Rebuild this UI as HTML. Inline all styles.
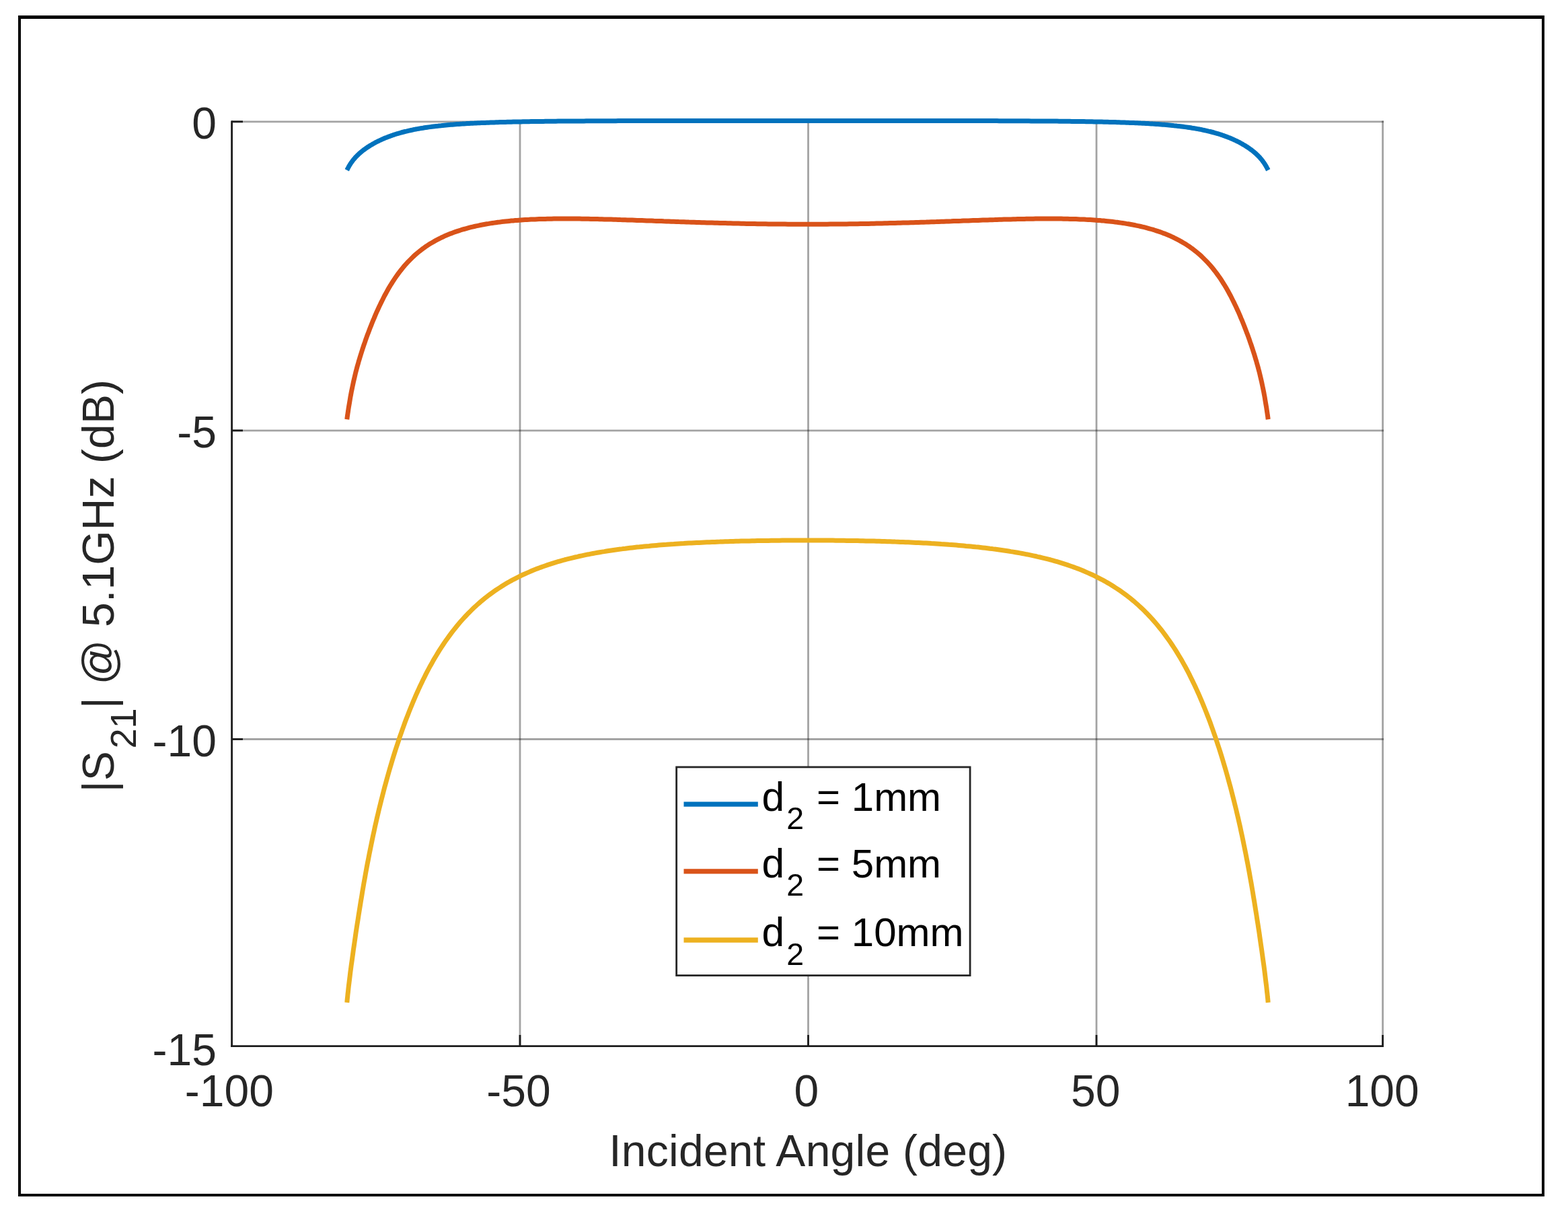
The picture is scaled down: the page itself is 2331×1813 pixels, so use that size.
<!DOCTYPE html>
<html lang="en"><head><meta charset="utf-8"><title>|S21| @ 5.1GHz vs Incident Angle</title>
<style>html,body{margin:0;padding:0;background:#fff}body{width:2331px;height:1813px;overflow:hidden}svg{display:block}text{font-family:"Liberation Sans",Arial,Helvetica,sans-serif}</style></head><body>
<svg xmlns="http://www.w3.org/2000/svg" width="2331" height="1813" viewBox="0 0 2331 1813">
<rect x="0" y="0" width="2331" height="1813" fill="#fff"/>
<g fill="#000"><rect x="27" y="23" width="2269" height="5"/><rect x="27" y="1774" width="2269" height="4"/><rect x="27" y="23" width="4" height="1755"/><rect x="2292" y="23" width="4" height="1755"/></g>
<g>
<g stroke="#000" stroke-opacity="0.36" stroke-width="2.8" fill="none">
<line x1="773.0" y1="179.4" x2="773.0" y2="1553.2"/>
<line x1="1201.5" y1="179.4" x2="1201.5" y2="1553.2"/>
<line x1="1630.0" y1="179.4" x2="1630.0" y2="1553.2"/>
<line x1="2055.6" y1="179.4" x2="2055.6" y2="1553.2"/>
<line x1="346" y1="180.8" x2="2057" y2="180.8"/>
<line x1="346" y1="639.8" x2="2057" y2="639.8"/>
<line x1="346" y1="1098.5" x2="2057" y2="1098.5"/>
</g>
<g fill="none" stroke-width="7" stroke-linejoin="round" stroke-linecap="butt">
<path stroke="#0072BD" d="M515.8,252.9 L515.9,252.7 L516.1,252.3 L516.3,251.7 L516.7,251.1 L517.0,250.3 L517.5,249.5 L517.9,248.7 L518.4,247.7 L519.0,246.8 L519.6,245.8 L520.2,244.8 L520.8,243.7 L521.5,242.7 L522.2,241.6 L523.0,240.6 L523.8,239.5 L524.6,238.4 L525.4,237.4 L526.3,236.3 L527.2,235.3 L528.1,234.2 L529.0,233.2 L530.0,232.2 L531.0,231.2 L532.1,230.2 L533.1,229.2 L534.2,228.2 L535.3,227.2 L536.4,226.3 L537.6,225.3 L538.7,224.4 L539.9,223.4 L541.1,222.5 L542.4,221.6 L543.6,220.7 L544.9,219.8 L546.2,218.9 L547.6,218.1 L548.9,217.2 L550.3,216.3 L551.7,215.5 L553.1,214.7 L554.5,213.8 L556.0,213.0 L557.4,212.2 L558.9,211.4 L560.4,210.7 L562.0,209.9 L563.5,209.1 L565.1,208.4 L566.7,207.7 L568.3,206.9 L569.9,206.2 L571.5,205.5 L573.2,204.8 L574.9,204.2 L576.6,203.5 L578.3,202.9 L580.0,202.2 L581.8,201.6 L583.5,201.0 L585.3,200.4 L587.1,199.8 L588.9,199.2 L590.8,198.7 L592.6,198.1 L594.5,197.6 L596.4,197.0 L598.3,196.5 L600.2,196.0 L602.1,195.5 L604.1,195.1 L606.1,194.6 L608.1,194.1 L610.1,193.7 L612.1,193.3 L614.1,192.8 L616.2,192.4 L618.2,192.0 L620.3,191.6 L622.4,191.3 L624.5,190.9 L626.7,190.5 L628.8,190.2 L631.0,189.8 L633.1,189.5 L635.3,189.2 L637.5,188.9 L639.7,188.6 L642.0,188.3 L644.2,188.0 L646.5,187.7 L648.8,187.4 L651.1,187.2 L653.4,186.9 L655.7,186.7 L658.1,186.4 L660.4,186.2 L662.8,186.0 L665.2,185.8 L667.6,185.6 L670.0,185.3 L672.4,185.2 L674.8,185.0 L677.3,184.8 L679.7,184.6 L682.2,184.4 L684.7,184.2 L687.2,184.1 L689.8,183.9 L692.3,183.8 L694.8,183.6 L697.4,183.5 L700.0,183.3 L702.6,183.2 L705.2,183.1 L707.8,182.9 L710.4,182.8 L713.1,182.7 L715.7,182.6 L718.4,182.5 L721.1,182.4 L723.8,182.3 L726.5,182.2 L729.2,182.1 L732.0,182.0 L734.7,181.9 L737.5,181.8 L740.3,181.7 L743.1,181.6 L745.9,181.5 L748.7,181.5 L751.5,181.4 L754.4,181.3 L757.2,181.2 L760.1,181.2 L763.0,181.1 L765.9,181.1 L768.8,181.0 L771.7,180.9 L774.6,180.9 L777.5,180.8 L780.5,180.8 L783.5,180.7 L786.5,180.7 L789.4,180.6 L792.4,180.6 L795.5,180.5 L798.5,180.5 L801.5,180.5 L804.6,180.4 L807.7,180.4 L810.7,180.3 L813.8,180.3 L816.9,180.3 L820.0,180.2 L823.2,180.2 L826.3,180.2 L829.5,180.1 L832.6,180.1 L835.8,180.1 L839.0,180.1 L842.2,180.0 L845.4,180.0 L848.6,180.0 L851.8,180.0 L855.1,179.9 L858.3,179.9 L861.6,179.9 L864.9,179.9 L868.2,179.9 L871.5,179.8 L874.8,179.8 L878.1,179.8 L881.5,179.8 L884.8,179.8 L888.2,179.8 L891.5,179.7 L894.9,179.7 L898.3,179.7 L901.7,179.7 L905.1,179.7 L908.6,179.7 L912.0,179.7 L915.5,179.7 L918.9,179.6 L922.4,179.6 L925.9,179.6 L929.4,179.6 L932.9,179.6 L936.4,179.6 L939.9,179.6 L943.5,179.6 L947.0,179.6 L950.6,179.6 L954.2,179.6 L957.7,179.6 L961.3,179.6 L964.9,179.5 L968.6,179.5 L972.2,179.5 L975.8,179.5 L979.5,179.5 L983.1,179.5 L986.8,179.5 L990.5,179.5 L994.2,179.5 L997.9,179.5 L1001.6,179.5 L1005.3,179.5 L1009.1,179.5 L1012.8,179.5 L1016.6,179.5 L1020.3,179.5 L1024.1,179.5 L1027.9,179.5 L1031.7,179.5 L1035.5,179.5 L1039.3,179.5 L1043.1,179.5 L1047.0,179.5 L1050.8,179.5 L1054.7,179.5 L1058.6,179.5 L1062.5,179.5 L1066.3,179.5 L1070.2,179.5 L1074.2,179.5 L1078.1,179.4 L1082.0,179.4 L1086.0,179.4 L1089.9,179.4 L1093.9,179.4 L1097.9,179.4 L1101.8,179.4 L1105.8,179.4 L1109.8,179.4 L1113.9,179.4 L1117.9,179.4 L1121.9,179.4 L1126.0,179.4 L1130.0,179.4 L1134.1,179.4 L1138.2,179.4 L1142.3,179.4 L1146.3,179.4 L1150.5,179.4 L1154.6,179.4 L1158.7,179.4 L1162.8,179.4 L1167.0,179.4 L1171.1,179.4 L1175.3,179.4 L1179.5,179.4 L1183.7,179.4 L1187.9,179.4 L1192.1,179.4 L1196.3,179.4 L1200.5,179.4 L1204.7,179.4 L1208.9,179.4 L1213.1,179.4 L1217.3,179.4 L1221.5,179.4 L1225.7,179.4 L1229.9,179.4 L1234.0,179.4 L1238.2,179.4 L1242.3,179.4 L1246.4,179.4 L1250.5,179.4 L1254.7,179.4 L1258.7,179.4 L1262.8,179.4 L1266.9,179.4 L1271.0,179.4 L1275.0,179.4 L1279.1,179.4 L1283.1,179.4 L1287.1,179.4 L1291.2,179.4 L1295.2,179.4 L1299.2,179.4 L1303.1,179.4 L1307.1,179.4 L1311.1,179.4 L1315.0,179.4 L1319.0,179.4 L1322.9,179.4 L1326.8,179.5 L1330.8,179.5 L1334.7,179.5 L1338.5,179.5 L1342.4,179.5 L1346.3,179.5 L1350.2,179.5 L1354.0,179.5 L1357.9,179.5 L1361.7,179.5 L1365.5,179.5 L1369.3,179.5 L1373.1,179.5 L1376.9,179.5 L1380.7,179.5 L1384.4,179.5 L1388.2,179.5 L1391.9,179.5 L1395.7,179.5 L1399.4,179.5 L1403.1,179.5 L1406.8,179.5 L1410.5,179.5 L1414.2,179.5 L1417.9,179.5 L1421.5,179.5 L1425.2,179.5 L1428.8,179.5 L1432.4,179.5 L1436.1,179.5 L1439.7,179.6 L1443.3,179.6 L1446.8,179.6 L1450.4,179.6 L1454.0,179.6 L1457.5,179.6 L1461.1,179.6 L1464.6,179.6 L1468.1,179.6 L1471.6,179.6 L1475.1,179.6 L1478.6,179.6 L1482.1,179.6 L1485.5,179.7 L1489.0,179.7 L1492.4,179.7 L1495.9,179.7 L1499.3,179.7 L1502.7,179.7 L1506.1,179.7 L1509.5,179.7 L1512.8,179.8 L1516.2,179.8 L1519.5,179.8 L1522.9,179.8 L1526.2,179.8 L1529.5,179.8 L1532.8,179.9 L1536.1,179.9 L1539.4,179.9 L1542.7,179.9 L1545.9,179.9 L1549.2,180.0 L1552.4,180.0 L1555.6,180.0 L1558.8,180.0 L1562.0,180.1 L1565.2,180.1 L1568.4,180.1 L1571.5,180.1 L1574.7,180.2 L1577.8,180.2 L1581.0,180.2 L1584.1,180.3 L1587.2,180.3 L1590.3,180.3 L1593.3,180.4 L1596.4,180.4 L1599.5,180.5 L1602.5,180.5 L1605.5,180.5 L1608.6,180.6 L1611.6,180.6 L1614.5,180.7 L1617.5,180.7 L1620.5,180.8 L1623.5,180.8 L1626.4,180.9 L1629.3,180.9 L1632.2,181.0 L1635.1,181.1 L1638.0,181.1 L1640.9,181.2 L1643.8,181.2 L1646.6,181.3 L1649.5,181.4 L1652.3,181.5 L1655.1,181.5 L1657.9,181.6 L1660.7,181.7 L1663.5,181.8 L1666.3,181.9 L1669.0,182.0 L1671.8,182.1 L1674.5,182.2 L1677.2,182.3 L1679.9,182.4 L1682.6,182.5 L1685.3,182.6 L1687.9,182.7 L1690.6,182.8 L1693.2,182.9 L1695.8,183.1 L1698.4,183.2 L1701.0,183.3 L1703.6,183.5 L1706.2,183.6 L1708.7,183.8 L1711.2,183.9 L1713.8,184.1 L1716.3,184.2 L1718.8,184.4 L1721.3,184.6 L1723.7,184.8 L1726.2,185.0 L1728.6,185.2 L1731.0,185.3 L1733.4,185.6 L1735.8,185.8 L1738.2,186.0 L1740.6,186.2 L1742.9,186.4 L1745.3,186.7 L1747.6,186.9 L1749.9,187.2 L1752.2,187.4 L1754.5,187.7 L1756.8,188.0 L1759.0,188.3 L1761.3,188.6 L1763.5,188.9 L1765.7,189.2 L1767.9,189.5 L1770.0,189.8 L1772.2,190.2 L1774.3,190.5 L1776.5,190.9 L1778.6,191.3 L1780.7,191.6 L1782.8,192.0 L1784.8,192.4 L1786.9,192.8 L1788.9,193.3 L1790.9,193.7 L1792.9,194.1 L1794.9,194.6 L1796.9,195.1 L1798.9,195.5 L1800.8,196.0 L1802.7,196.5 L1804.6,197.0 L1806.5,197.6 L1808.4,198.1 L1810.2,198.7 L1812.1,199.2 L1813.9,199.8 L1815.7,200.4 L1817.5,201.0 L1819.2,201.6 L1821.0,202.2 L1822.7,202.9 L1824.4,203.5 L1826.1,204.2 L1827.8,204.8 L1829.5,205.5 L1831.1,206.2 L1832.7,206.9 L1834.3,207.7 L1835.9,208.4 L1837.5,209.1 L1839.0,209.9 L1840.6,210.7 L1842.1,211.4 L1843.6,212.2 L1845.0,213.0 L1846.5,213.8 L1847.9,214.7 L1849.3,215.5 L1850.7,216.3 L1852.1,217.2 L1853.4,218.1 L1854.8,218.9 L1856.1,219.8 L1857.4,220.7 L1858.6,221.6 L1859.9,222.5 L1861.1,223.4 L1862.3,224.4 L1863.4,225.3 L1864.6,226.3 L1865.7,227.2 L1866.8,228.2 L1867.9,229.2 L1868.9,230.2 L1870.0,231.2 L1871.0,232.2 L1872.0,233.2 L1872.9,234.2 L1873.8,235.3 L1874.7,236.3 L1875.6,237.4 L1876.4,238.4 L1877.2,239.5 L1878.0,240.6 L1878.8,241.6 L1879.5,242.7 L1880.2,243.7 L1880.8,244.8 L1881.4,245.8 L1882.0,246.8 L1882.6,247.7 L1883.1,248.7 L1883.5,249.5 L1884.0,250.3 L1884.3,251.1 L1884.7,251.7 L1884.9,252.3 L1885.1,252.7 L1885.2,252.9"/>
<path stroke="#D95319" d="M515.8,623.2 L515.9,622.5 L516.1,621.1 L516.3,619.2 L516.7,616.9 L517.0,614.3 L517.5,611.4 L517.9,608.4 L518.4,605.1 L519.0,601.7 L519.6,598.1 L520.2,594.5 L520.8,590.7 L521.5,587.0 L522.2,583.1 L523.0,579.3 L523.8,575.4 L524.6,571.6 L525.4,567.7 L526.3,563.9 L527.2,560.1 L528.1,556.3 L529.0,552.5 L530.0,548.8 L531.0,545.0 L532.1,541.3 L533.1,537.6 L534.2,534.0 L535.3,530.3 L536.4,526.7 L537.6,523.0 L538.7,519.4 L539.9,515.8 L541.1,512.2 L542.4,508.6 L543.6,505.0 L544.9,501.4 L546.2,497.8 L547.6,494.2 L548.9,490.7 L550.3,487.1 L551.7,483.6 L553.1,480.0 L554.5,476.5 L556.0,473.1 L557.4,469.6 L558.9,466.1 L560.4,462.7 L562.0,459.4 L563.5,456.0 L565.1,452.7 L566.7,449.4 L568.3,446.2 L569.9,443.0 L571.5,439.8 L573.2,436.7 L574.9,433.6 L576.6,430.6 L578.3,427.6 L580.0,424.7 L581.8,421.9 L583.5,419.1 L585.3,416.3 L587.1,413.6 L588.9,411.0 L590.8,408.4 L592.6,405.9 L594.5,403.4 L596.4,401.0 L598.3,398.6 L600.2,396.3 L602.1,394.0 L604.1,391.8 L606.1,389.7 L608.1,387.6 L610.1,385.6 L612.1,383.6 L614.1,381.6 L616.2,379.7 L618.2,377.9 L620.3,376.1 L622.4,374.4 L624.5,372.7 L626.7,371.0 L628.8,369.4 L631.0,367.9 L633.1,366.3 L635.3,364.9 L637.5,363.4 L639.7,362.0 L642.0,360.7 L644.2,359.4 L646.5,358.1 L648.8,356.8 L651.1,355.6 L653.4,354.5 L655.7,353.3 L658.1,352.2 L660.4,351.1 L662.8,350.1 L665.2,349.1 L667.6,348.1 L670.0,347.1 L672.4,346.2 L674.8,345.3 L677.3,344.4 L679.7,343.6 L682.2,342.8 L684.7,342.0 L687.2,341.2 L689.8,340.5 L692.3,339.8 L694.8,339.1 L697.4,338.4 L700.0,337.7 L702.6,337.1 L705.2,336.5 L707.8,335.9 L710.4,335.4 L713.1,334.8 L715.7,334.3 L718.4,333.8 L721.1,333.3 L723.8,332.8 L726.5,332.4 L729.2,331.9 L732.0,331.5 L734.7,331.1 L737.5,330.7 L740.3,330.3 L743.1,330.0 L745.9,329.6 L748.7,329.3 L751.5,329.0 L754.4,328.7 L757.2,328.4 L760.1,328.1 L763.0,327.9 L765.9,327.6 L768.8,327.4 L771.7,327.2 L774.6,327.0 L777.5,326.8 L780.5,326.6 L783.5,326.4 L786.5,326.3 L789.4,326.1 L792.4,326.0 L795.5,325.9 L798.5,325.7 L801.5,325.6 L804.6,325.5 L807.7,325.4 L810.7,325.4 L813.8,325.3 L816.9,325.2 L820.0,325.2 L823.2,325.1 L826.3,325.1 L829.5,325.1 L832.6,325.0 L835.8,325.0 L839.0,325.0 L842.2,325.0 L845.4,325.0 L848.6,325.0 L851.8,325.0 L855.1,325.1 L858.3,325.1 L861.6,325.1 L864.9,325.2 L868.2,325.2 L871.5,325.3 L874.8,325.3 L878.1,325.4 L881.5,325.5 L884.8,325.5 L888.2,325.6 L891.5,325.7 L894.9,325.8 L898.3,325.9 L901.7,325.9 L905.1,326.0 L908.6,326.1 L912.0,326.2 L915.5,326.3 L918.9,326.4 L922.4,326.6 L925.9,326.7 L929.4,326.8 L932.9,326.9 L936.4,327.0 L939.9,327.1 L943.5,327.2 L947.0,327.4 L950.6,327.5 L954.2,327.6 L957.7,327.7 L961.3,327.9 L964.9,328.0 L968.6,328.1 L972.2,328.3 L975.8,328.4 L979.5,328.5 L983.1,328.6 L986.8,328.8 L990.5,328.9 L994.2,329.0 L997.9,329.2 L1001.6,329.3 L1005.3,329.4 L1009.1,329.6 L1012.8,329.7 L1016.6,329.8 L1020.3,329.9 L1024.1,330.1 L1027.9,330.2 L1031.7,330.3 L1035.5,330.4 L1039.3,330.5 L1043.1,330.7 L1047.0,330.8 L1050.8,330.9 L1054.7,331.0 L1058.6,331.1 L1062.5,331.2 L1066.3,331.3 L1070.2,331.4 L1074.2,331.5 L1078.1,331.6 L1082.0,331.7 L1086.0,331.8 L1089.9,331.9 L1093.9,332.0 L1097.9,332.1 L1101.8,332.2 L1105.8,332.3 L1109.8,332.4 L1113.9,332.4 L1117.9,332.5 L1121.9,332.6 L1126.0,332.7 L1130.0,332.7 L1134.1,332.8 L1138.2,332.8 L1142.3,332.9 L1146.3,332.9 L1150.5,333.0 L1154.6,333.0 L1158.7,333.1 L1162.8,333.1 L1167.0,333.1 L1171.1,333.2 L1175.3,333.2 L1179.5,333.2 L1183.7,333.2 L1187.9,333.3 L1192.1,333.3 L1196.3,333.3 L1200.5,333.3 L1204.7,333.3 L1208.9,333.3 L1213.1,333.3 L1217.3,333.2 L1221.5,333.2 L1225.7,333.2 L1229.9,333.2 L1234.0,333.1 L1238.2,333.1 L1242.3,333.1 L1246.4,333.0 L1250.5,333.0 L1254.7,332.9 L1258.7,332.9 L1262.8,332.8 L1266.9,332.8 L1271.0,332.7 L1275.0,332.7 L1279.1,332.6 L1283.1,332.5 L1287.1,332.4 L1291.2,332.4 L1295.2,332.3 L1299.2,332.2 L1303.1,332.1 L1307.1,332.0 L1311.1,331.9 L1315.0,331.8 L1319.0,331.7 L1322.9,331.6 L1326.8,331.5 L1330.8,331.4 L1334.7,331.3 L1338.5,331.2 L1342.4,331.1 L1346.3,331.0 L1350.2,330.9 L1354.0,330.8 L1357.9,330.7 L1361.7,330.5 L1365.5,330.4 L1369.3,330.3 L1373.1,330.2 L1376.9,330.1 L1380.7,329.9 L1384.4,329.8 L1388.2,329.7 L1391.9,329.6 L1395.7,329.4 L1399.4,329.3 L1403.1,329.2 L1406.8,329.0 L1410.5,328.9 L1414.2,328.8 L1417.9,328.6 L1421.5,328.5 L1425.2,328.4 L1428.8,328.3 L1432.4,328.1 L1436.1,328.0 L1439.7,327.9 L1443.3,327.7 L1446.8,327.6 L1450.4,327.5 L1454.0,327.4 L1457.5,327.2 L1461.1,327.1 L1464.6,327.0 L1468.1,326.9 L1471.6,326.8 L1475.1,326.7 L1478.6,326.6 L1482.1,326.4 L1485.5,326.3 L1489.0,326.2 L1492.4,326.1 L1495.9,326.0 L1499.3,325.9 L1502.7,325.9 L1506.1,325.8 L1509.5,325.7 L1512.8,325.6 L1516.2,325.5 L1519.5,325.5 L1522.9,325.4 L1526.2,325.3 L1529.5,325.3 L1532.8,325.2 L1536.1,325.2 L1539.4,325.1 L1542.7,325.1 L1545.9,325.1 L1549.2,325.0 L1552.4,325.0 L1555.6,325.0 L1558.8,325.0 L1562.0,325.0 L1565.2,325.0 L1568.4,325.0 L1571.5,325.1 L1574.7,325.1 L1577.8,325.1 L1581.0,325.2 L1584.1,325.2 L1587.2,325.3 L1590.3,325.4 L1593.3,325.4 L1596.4,325.5 L1599.5,325.6 L1602.5,325.7 L1605.5,325.9 L1608.6,326.0 L1611.6,326.1 L1614.5,326.3 L1617.5,326.4 L1620.5,326.6 L1623.5,326.8 L1626.4,327.0 L1629.3,327.2 L1632.2,327.4 L1635.1,327.6 L1638.0,327.9 L1640.9,328.1 L1643.8,328.4 L1646.6,328.7 L1649.5,329.0 L1652.3,329.3 L1655.1,329.6 L1657.9,330.0 L1660.7,330.3 L1663.5,330.7 L1666.3,331.1 L1669.0,331.5 L1671.8,331.9 L1674.5,332.4 L1677.2,332.8 L1679.9,333.3 L1682.6,333.8 L1685.3,334.3 L1687.9,334.8 L1690.6,335.4 L1693.2,335.9 L1695.8,336.5 L1698.4,337.1 L1701.0,337.7 L1703.6,338.4 L1706.2,339.1 L1708.7,339.8 L1711.2,340.5 L1713.8,341.2 L1716.3,342.0 L1718.8,342.8 L1721.3,343.6 L1723.7,344.4 L1726.2,345.3 L1728.6,346.2 L1731.0,347.1 L1733.4,348.1 L1735.8,349.1 L1738.2,350.1 L1740.6,351.1 L1742.9,352.2 L1745.3,353.3 L1747.6,354.5 L1749.9,355.6 L1752.2,356.8 L1754.5,358.1 L1756.8,359.4 L1759.0,360.7 L1761.3,362.0 L1763.5,363.4 L1765.7,364.9 L1767.9,366.3 L1770.0,367.9 L1772.2,369.4 L1774.3,371.0 L1776.5,372.7 L1778.6,374.4 L1780.7,376.1 L1782.8,377.9 L1784.8,379.7 L1786.9,381.6 L1788.9,383.6 L1790.9,385.6 L1792.9,387.6 L1794.9,389.7 L1796.9,391.8 L1798.9,394.0 L1800.8,396.3 L1802.7,398.6 L1804.6,401.0 L1806.5,403.4 L1808.4,405.9 L1810.2,408.4 L1812.1,411.0 L1813.9,413.6 L1815.7,416.3 L1817.5,419.1 L1819.2,421.9 L1821.0,424.7 L1822.7,427.6 L1824.4,430.6 L1826.1,433.6 L1827.8,436.7 L1829.5,439.8 L1831.1,443.0 L1832.7,446.2 L1834.3,449.4 L1835.9,452.7 L1837.5,456.0 L1839.0,459.4 L1840.6,462.7 L1842.1,466.1 L1843.6,469.6 L1845.0,473.1 L1846.5,476.5 L1847.9,480.0 L1849.3,483.6 L1850.7,487.1 L1852.1,490.7 L1853.4,494.2 L1854.8,497.8 L1856.1,501.4 L1857.4,505.0 L1858.6,508.6 L1859.9,512.2 L1861.1,515.8 L1862.3,519.4 L1863.4,523.0 L1864.6,526.7 L1865.7,530.3 L1866.8,534.0 L1867.9,537.6 L1868.9,541.3 L1870.0,545.0 L1871.0,548.8 L1872.0,552.5 L1872.9,556.3 L1873.8,560.1 L1874.7,563.9 L1875.6,567.7 L1876.4,571.6 L1877.2,575.4 L1878.0,579.3 L1878.8,583.1 L1879.5,587.0 L1880.2,590.7 L1880.8,594.5 L1881.4,598.1 L1882.0,601.7 L1882.6,605.1 L1883.1,608.4 L1883.5,611.4 L1884.0,614.3 L1884.3,616.9 L1884.7,619.2 L1884.9,621.1 L1885.1,622.5 L1885.2,623.2"/>
<path stroke="#EDB120" d="M515.8,1489.9 L515.9,1488.9 L516.1,1486.9 L516.3,1484.2 L516.7,1481.0 L517.0,1477.5 L517.5,1473.5 L517.9,1469.3 L518.4,1464.9 L519.0,1460.2 L519.6,1455.3 L520.2,1450.3 L520.8,1445.2 L521.5,1439.9 L522.2,1434.4 L523.0,1428.9 L523.8,1423.2 L524.6,1417.4 L525.4,1411.4 L526.3,1405.4 L527.2,1399.2 L528.1,1392.9 L529.0,1386.5 L530.0,1380.0 L531.0,1373.5 L532.1,1366.8 L533.1,1360.0 L534.2,1353.2 L535.3,1346.4 L536.4,1339.4 L537.6,1332.5 L538.7,1325.5 L539.9,1318.5 L541.1,1311.5 L542.4,1304.5 L543.6,1297.5 L544.9,1290.5 L546.2,1283.5 L547.6,1276.5 L548.9,1269.6 L550.3,1262.7 L551.7,1255.9 L553.1,1249.0 L554.5,1242.3 L556.0,1235.5 L557.4,1228.8 L558.9,1222.2 L560.4,1215.6 L562.0,1209.0 L563.5,1202.5 L565.1,1196.1 L566.7,1189.7 L568.3,1183.4 L569.9,1177.1 L571.5,1170.8 L573.2,1164.7 L574.9,1158.5 L576.6,1152.4 L578.3,1146.4 L580.0,1140.5 L581.8,1134.5 L583.5,1128.7 L585.3,1122.9 L587.1,1117.1 L588.9,1111.5 L590.8,1105.8 L592.6,1100.3 L594.5,1094.7 L596.4,1089.3 L598.3,1083.9 L600.2,1078.6 L602.1,1073.3 L604.1,1068.1 L606.1,1062.9 L608.1,1057.8 L610.1,1052.8 L612.1,1047.9 L614.1,1043.0 L616.2,1038.2 L618.2,1033.4 L620.3,1028.7 L622.4,1024.1 L624.5,1019.5 L626.7,1015.0 L628.8,1010.6 L631.0,1006.2 L633.1,1001.9 L635.3,997.7 L637.5,993.5 L639.7,989.4 L642.0,985.4 L644.2,981.4 L646.5,977.5 L648.8,973.7 L651.1,969.9 L653.4,966.2 L655.7,962.6 L658.1,959.0 L660.4,955.5 L662.8,952.1 L665.2,948.7 L667.6,945.4 L670.0,942.1 L672.4,938.9 L674.8,935.8 L677.3,932.7 L679.7,929.7 L682.2,926.7 L684.7,923.8 L687.2,921.0 L689.8,918.2 L692.3,915.5 L694.8,912.8 L697.4,910.2 L700.0,907.6 L702.6,905.1 L705.2,902.6 L707.8,900.2 L710.4,897.8 L713.1,895.5 L715.7,893.2 L718.4,891.0 L721.1,888.8 L723.8,886.7 L726.5,884.6 L729.2,882.6 L732.0,880.6 L734.7,878.7 L737.5,876.7 L740.3,874.9 L743.1,873.1 L745.9,871.3 L748.7,869.5 L751.5,867.8 L754.4,866.1 L757.2,864.5 L760.1,862.9 L763.0,861.3 L765.9,859.8 L768.8,858.3 L771.7,856.9 L774.6,855.4 L777.5,854.0 L780.5,852.7 L783.5,851.4 L786.5,850.1 L789.4,848.8 L792.4,847.5 L795.5,846.3 L798.5,845.1 L801.5,844.0 L804.6,842.9 L807.7,841.8 L810.7,840.7 L813.8,839.6 L816.9,838.6 L820.0,837.6 L823.2,836.6 L826.3,835.6 L829.5,834.7 L832.6,833.8 L835.8,832.9 L839.0,832.0 L842.2,831.2 L845.4,830.4 L848.6,829.6 L851.8,828.8 L855.1,828.0 L858.3,827.3 L861.6,826.5 L864.9,825.8 L868.2,825.1 L871.5,824.4 L874.8,823.8 L878.1,823.1 L881.5,822.5 L884.8,821.9 L888.2,821.3 L891.5,820.7 L894.9,820.1 L898.3,819.6 L901.7,819.0 L905.1,818.5 L908.6,818.0 L912.0,817.5 L915.5,817.0 L918.9,816.5 L922.4,816.1 L925.9,815.6 L929.4,815.2 L932.9,814.7 L936.4,814.3 L939.9,813.9 L943.5,813.5 L947.0,813.1 L950.6,812.8 L954.2,812.4 L957.7,812.0 L961.3,811.7 L964.9,811.4 L968.6,811.0 L972.2,810.7 L975.8,810.4 L979.5,810.1 L983.1,809.8 L986.8,809.5 L990.5,809.3 L994.2,809.0 L997.9,808.7 L1001.6,808.5 L1005.3,808.2 L1009.1,808.0 L1012.8,807.8 L1016.6,807.6 L1020.3,807.3 L1024.1,807.1 L1027.9,806.9 L1031.7,806.7 L1035.5,806.5 L1039.3,806.4 L1043.1,806.2 L1047.0,806.0 L1050.8,805.8 L1054.7,805.7 L1058.6,805.5 L1062.5,805.4 L1066.3,805.2 L1070.2,805.1 L1074.2,804.9 L1078.1,804.8 L1082.0,804.7 L1086.0,804.6 L1089.9,804.5 L1093.9,804.3 L1097.9,804.2 L1101.8,804.1 L1105.8,804.0 L1109.8,804.0 L1113.9,803.9 L1117.9,803.8 L1121.9,803.7 L1126.0,803.6 L1130.0,803.6 L1134.1,803.5 L1138.2,803.4 L1142.3,803.4 L1146.3,803.3 L1150.5,803.3 L1154.6,803.2 L1158.7,803.2 L1162.8,803.1 L1167.0,803.1 L1171.1,803.1 L1175.3,803.1 L1179.5,803.0 L1183.7,803.0 L1187.9,803.0 L1192.1,803.0 L1196.3,803.0 L1200.5,803.0 L1204.7,803.0 L1208.9,803.0 L1213.1,803.0 L1217.3,803.0 L1221.5,803.0 L1225.7,803.1 L1229.9,803.1 L1234.0,803.1 L1238.2,803.1 L1242.3,803.2 L1246.4,803.2 L1250.5,803.3 L1254.7,803.3 L1258.7,803.4 L1262.8,803.4 L1266.9,803.5 L1271.0,803.6 L1275.0,803.6 L1279.1,803.7 L1283.1,803.8 L1287.1,803.9 L1291.2,804.0 L1295.2,804.0 L1299.2,804.1 L1303.1,804.2 L1307.1,804.3 L1311.1,804.5 L1315.0,804.6 L1319.0,804.7 L1322.9,804.8 L1326.8,804.9 L1330.8,805.1 L1334.7,805.2 L1338.5,805.4 L1342.4,805.5 L1346.3,805.7 L1350.2,805.8 L1354.0,806.0 L1357.9,806.2 L1361.7,806.4 L1365.5,806.5 L1369.3,806.7 L1373.1,806.9 L1376.9,807.1 L1380.7,807.3 L1384.4,807.6 L1388.2,807.8 L1391.9,808.0 L1395.7,808.2 L1399.4,808.5 L1403.1,808.7 L1406.8,809.0 L1410.5,809.3 L1414.2,809.5 L1417.9,809.8 L1421.5,810.1 L1425.2,810.4 L1428.8,810.7 L1432.4,811.0 L1436.1,811.4 L1439.7,811.7 L1443.3,812.0 L1446.8,812.4 L1450.4,812.8 L1454.0,813.1 L1457.5,813.5 L1461.1,813.9 L1464.6,814.3 L1468.1,814.7 L1471.6,815.2 L1475.1,815.6 L1478.6,816.1 L1482.1,816.5 L1485.5,817.0 L1489.0,817.5 L1492.4,818.0 L1495.9,818.5 L1499.3,819.0 L1502.7,819.6 L1506.1,820.1 L1509.5,820.7 L1512.8,821.3 L1516.2,821.9 L1519.5,822.5 L1522.9,823.1 L1526.2,823.8 L1529.5,824.4 L1532.8,825.1 L1536.1,825.8 L1539.4,826.5 L1542.7,827.3 L1545.9,828.0 L1549.2,828.8 L1552.4,829.6 L1555.6,830.4 L1558.8,831.2 L1562.0,832.0 L1565.2,832.9 L1568.4,833.8 L1571.5,834.7 L1574.7,835.6 L1577.8,836.6 L1581.0,837.6 L1584.1,838.6 L1587.2,839.6 L1590.3,840.7 L1593.3,841.8 L1596.4,842.9 L1599.5,844.0 L1602.5,845.1 L1605.5,846.3 L1608.6,847.5 L1611.6,848.8 L1614.5,850.1 L1617.5,851.4 L1620.5,852.7 L1623.5,854.0 L1626.4,855.4 L1629.3,856.9 L1632.2,858.3 L1635.1,859.8 L1638.0,861.3 L1640.9,862.9 L1643.8,864.5 L1646.6,866.1 L1649.5,867.8 L1652.3,869.5 L1655.1,871.3 L1657.9,873.1 L1660.7,874.9 L1663.5,876.7 L1666.3,878.7 L1669.0,880.6 L1671.8,882.6 L1674.5,884.6 L1677.2,886.7 L1679.9,888.8 L1682.6,891.0 L1685.3,893.2 L1687.9,895.5 L1690.6,897.8 L1693.2,900.2 L1695.8,902.6 L1698.4,905.1 L1701.0,907.6 L1703.6,910.2 L1706.2,912.8 L1708.7,915.5 L1711.2,918.2 L1713.8,921.0 L1716.3,923.8 L1718.8,926.7 L1721.3,929.7 L1723.7,932.7 L1726.2,935.8 L1728.6,938.9 L1731.0,942.1 L1733.4,945.4 L1735.8,948.7 L1738.2,952.1 L1740.6,955.5 L1742.9,959.0 L1745.3,962.6 L1747.6,966.2 L1749.9,969.9 L1752.2,973.7 L1754.5,977.5 L1756.8,981.4 L1759.0,985.4 L1761.3,989.4 L1763.5,993.5 L1765.7,997.7 L1767.9,1001.9 L1770.0,1006.2 L1772.2,1010.6 L1774.3,1015.0 L1776.5,1019.5 L1778.6,1024.1 L1780.7,1028.7 L1782.8,1033.4 L1784.8,1038.2 L1786.9,1043.0 L1788.9,1047.9 L1790.9,1052.8 L1792.9,1057.8 L1794.9,1062.9 L1796.9,1068.1 L1798.9,1073.3 L1800.8,1078.6 L1802.7,1083.9 L1804.6,1089.3 L1806.5,1094.7 L1808.4,1100.3 L1810.2,1105.8 L1812.1,1111.5 L1813.9,1117.1 L1815.7,1122.9 L1817.5,1128.7 L1819.2,1134.5 L1821.0,1140.5 L1822.7,1146.4 L1824.4,1152.4 L1826.1,1158.5 L1827.8,1164.7 L1829.5,1170.8 L1831.1,1177.1 L1832.7,1183.4 L1834.3,1189.7 L1835.9,1196.1 L1837.5,1202.5 L1839.0,1209.0 L1840.6,1215.6 L1842.1,1222.2 L1843.6,1228.8 L1845.0,1235.5 L1846.5,1242.3 L1847.9,1249.0 L1849.3,1255.9 L1850.7,1262.7 L1852.1,1269.6 L1853.4,1276.5 L1854.8,1283.5 L1856.1,1290.5 L1857.4,1297.5 L1858.6,1304.5 L1859.9,1311.5 L1861.1,1318.5 L1862.3,1325.5 L1863.4,1332.5 L1864.6,1339.4 L1865.7,1346.4 L1866.8,1353.2 L1867.9,1360.0 L1868.9,1366.8 L1870.0,1373.5 L1871.0,1380.0 L1872.0,1386.5 L1872.9,1392.9 L1873.8,1399.2 L1874.7,1405.4 L1875.6,1411.4 L1876.4,1417.4 L1877.2,1423.2 L1878.0,1428.9 L1878.8,1434.4 L1879.5,1439.9 L1880.2,1445.2 L1880.8,1450.3 L1881.4,1455.3 L1882.0,1460.2 L1882.6,1464.9 L1883.1,1469.3 L1883.5,1473.5 L1884.0,1477.5 L1884.3,1481.0 L1884.7,1484.2 L1884.9,1486.9 L1885.1,1488.9 L1885.2,1489.9"/>
</g>
<g stroke="#1c1c1c" stroke-width="2.8" fill="none">
<line x1="344.6" y1="179.4" x2="344.6" y2="1556"/>
<line x1="343.2" y1="1554.6" x2="2057" y2="1554.6"/>
<line x1="344" y1="180.8" x2="361" y2="180.8"/>
<line x1="344" y1="639.8" x2="361" y2="639.8"/>
<line x1="344" y1="1098.5" x2="361" y2="1098.5"/>
<line x1="773.0" y1="1538" x2="773.0" y2="1555"/>
<line x1="1201.5" y1="1538" x2="1201.5" y2="1555"/>
<line x1="1630.0" y1="1538" x2="1630.0" y2="1555"/>
<line x1="2055.6" y1="1538" x2="2055.6" y2="1555"/>
</g>
<g font-size="66" fill="#262626">
<text x="322" y="206.2" text-anchor="end">0</text>
<text x="322" y="665.2" text-anchor="end">-5</text>
<text x="322" y="1124.0" text-anchor="end">-10</text>
<text x="322" y="1582.9" text-anchor="end">-15</text>
<text x="340.8" y="1643.8" text-anchor="middle">-100</text>
<text x="770.9" y="1643.8" text-anchor="middle">-50</text>
<text x="1198.9" y="1643.8" text-anchor="middle">0</text>
<text x="1628.8" y="1643.8" text-anchor="middle">50</text>
<text x="2054.7" y="1643.8" text-anchor="middle">100</text>
<text x="1201.3" y="1732.8" text-anchor="middle" letter-spacing="0.25">Incident Angle (deg)</text>
<text transform="translate(169.3,1177.5) rotate(-90)">|S</text>
<text transform="translate(201.9,1112.6) rotate(-90)" font-size="54">21</text>
<text transform="translate(169.3,1053.2) rotate(-90)" letter-spacing="0.12">| @ 5.1GHz (dB)</text>
</g>
<rect x="1005.65" y="1139.95" width="436.45" height="309.65" fill="#fff" stroke="#262626" stroke-width="2.8"/>
<line x1="1016.5" y1="1195.1" x2="1126.8" y2="1195.1" stroke="#0072BD" stroke-width="7.3"/>
<text font-size="60" fill="#000" y="1204.7"><tspan x="1132.4" font-size="60.5">d</tspan><tspan font-size="46.5" x="1169.3" dy="27.6">2</tspan><tspan x="1197.4" dy="-27.6"> = 1mm</tspan></text>
<line x1="1016.5" y1="1294.8" x2="1126.8" y2="1294.8" stroke="#D95319" stroke-width="7.3"/>
<text font-size="60" fill="#000" y="1303.8"><tspan x="1132.4" font-size="60.5">d</tspan><tspan font-size="46.5" x="1169.3" dy="27.6">2</tspan><tspan x="1197.4" dy="-27.6"> = 5mm</tspan></text>
<line x1="1016.5" y1="1397.0" x2="1126.8" y2="1397.0" stroke="#EDB120" stroke-width="7.3"/>
<text font-size="60" fill="#000" y="1406.0"><tspan x="1132.4" font-size="60.5">d</tspan><tspan font-size="46.5" x="1169.3" dy="27.6">2</tspan><tspan x="1197.4" dy="-27.6"> = 10mm</tspan></text>
</g>
</svg></body></html>
